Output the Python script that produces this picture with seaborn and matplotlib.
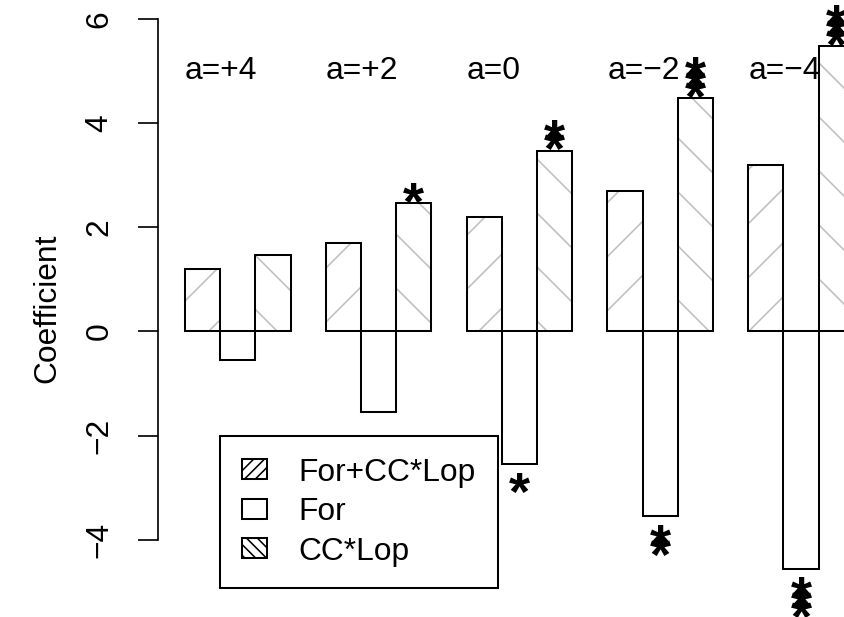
import matplotlib
matplotlib.use("Agg")
import matplotlib.pyplot as plt
from matplotlib.patches import Patch, Rectangle
import pandas as pd
import seaborn as sns

# values
groups = ["a=+4", "a=+2", "a=0", "a=\u22122", "a=\u22124"]
series = ["For+CC*Lop", "For", "CC*Lop"]
for_cc_lop = [1.2, 1.7, 2.2, 2.7, 3.2]
for_only = [-0.55, -1.55, -2.55, -3.55, -4.55]
cc_lop = [1.47, 2.47, 3.47, 4.47, 5.47]
stars_for_cc_lop = [0, 0, 0, 0, 0]
stars_for = [0, 0, 1, 2, 3]
stars_cc_lop = [0, 1, 2, 3, 3]
y_ticks = [-4, -2, 0, 2, 4, 6]

DPI = 162
W, H = 844, 617
FS = 14.1
GRAY = "#bebebe"
LW = 0.9

sns.set_theme(style="white")
plt.rcParams["font.family"] = ["Liberation Sans", "DejaVu Sans"]
plt.rcParams["hatch.linewidth"] = 0.7
plt.rcParams["text.color"] = "black"
plt.rcParams["axes.labelcolor"] = "black"
plt.rcParams["ytick.color"] = "black"

df = pd.DataFrame({
    "group": groups * 3,
    "series": [s for s in series for _ in groups],
    "value": for_cc_lop + for_only + cc_lop,
})

fig = plt.figure(figsize=(W / DPI, H / DPI), dpi=DPI)
ax_left = 158.3 / W
ax = fig.add_axes([ax_left, 0, 1 - ax_left, 1])

sns.barplot(
    data=df, x="group", y="value", hue="series",
    order=groups, hue_order=series,
    palette=["white"] * 3, saturation=1,
    width=0.75, edgecolor="black", linewidth=LW,
    errorbar=None, legend=False, ax=ax,
)

# gray hatching inside, black outline on top
for idx, hatch in [(0, "/"), (2, "\\")]:
    for bar in ax.containers[idx]:
        bar.set_hatch(hatch)
        bar.set_edgecolor(GRAY)
        bar.set_linewidth(0)
        ax.add_patch(Rectangle(bar.get_xy(), bar.get_width(), bar.get_height(),
                               fill=False, edgecolor="black", linewidth=LW))

ax.set_xlim(-0.5646, 4.305)
ax.set_ylim(-5.48, 6.36)
ax.set_xticks([])
ax.set_xlabel("")
for side in ["top", "right", "bottom"]:
    ax.spines[side].set_visible(False)
ax.spines["left"].set_bounds(-4, 6)
ax.spines["left"].set_linewidth(0.75)
ax.spines["left"].set_color("black")
ax.set_yticks(y_ticks)
ax.set_yticklabels([str(t).replace("-", "\u2212") for t in y_ticks],
                   rotation=90, va="center", fontsize=FS, color="black")
ax.tick_params(axis="y", left=True, length=8.9, width=0.75, pad=10.5, colors="black")
ax.set_ylabel("Coefficient", fontsize=FS, color="black")
ax.yaxis.set_label_coords(-0.14, 0.5)

# group labels
for bar, label in zip(ax.containers[0], groups):
    ax.text(bar.get_x(), 5, label, ha="left", va="center", fontsize=FS, color="black")

# significance stars
star_fs = 24
for idx, vals, stars in [(0, for_cc_lop, stars_for_cc_lop),
                         (1, for_only, stars_for),
                         (2, cc_lop, stars_cc_lop)]:
    for bar, v, n in zip(ax.containers[idx], vals, stars):
        xc = bar.get_x() + bar.get_width() / 2
        sign = 1 if v > 0 else -1
        for k in range(n):
            centre_px = sign * (14.5 + 10.5 * k)
            dy = centre_px * 72 / DPI - 0.58 * star_fs
            ax.annotate("*", xy=(xc, v), xytext=(0, dy), textcoords="offset points",
                        ha="center", va="baseline", fontsize=star_fs,
                        fontweight="bold", color="black", annotation_clip=False)

handles = [
    Patch(facecolor="white", edgecolor="black", hatch="/////", linewidth=LW, label=series[0]),
    Patch(facecolor="white", edgecolor="black", linewidth=LW, label=series[1]),
    Patch(facecolor="white", edgecolor="black", hatch="\\\\\\\\\\", linewidth=LW, label=series[2]),
]
leg = fig.legend(
    handles=handles, loc="upper left",
    bbox_to_anchor=(220 / W, 1 - 436 / H), bbox_transform=fig.transFigure,
    frameon=True, fancybox=False, edgecolor="black", framealpha=1,
    borderpad=0.68, labelspacing=0.3, handlelength=0.8, handleheight=0.6,
    handletextpad=1.0, borderaxespad=0, fontsize=FS,
)
leg.get_frame().set_linewidth(LW)
for t in leg.get_texts():
    t.set_color("black")

fig.savefig("out.png", dpi=DPI)
